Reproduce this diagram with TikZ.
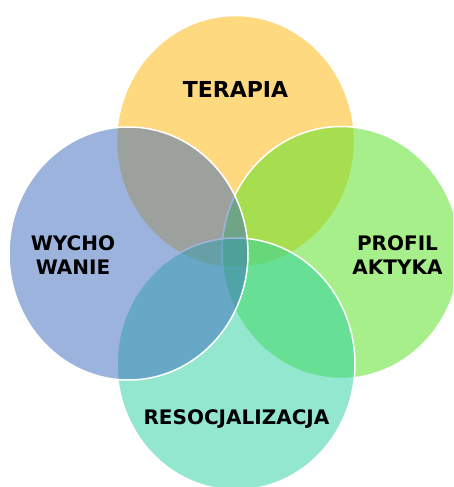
\documentclass[tikz,border=0pt]{standalone}
\usepackage{fontspec}
\setmainfont{DejaVu Sans}
\definecolor{corange}{RGB}{255,180,0}
\definecolor{cblue}{RGB}{59,107,189}
\definecolor{cgreen}{RGB}{96,227,42}
\definecolor{cteal}{RGB}{41,209,159}
\tikzset{
  venn/.style={draw=white, line width=1.5pt, fill opacity=0.5, draw opacity=1},
  lbl/.style={font=\fontsize{20}{24}\selectfont\bfseries, text=black, align=center, inner sep=0pt}
}
\begin{document}
\begin{tikzpicture}[x=1pt,y=-1pt]
\useasboundingbox (0,0) rectangle (453,487);
\fill[white] (0,0) rectangle (453,487);
\begin{scope}
\clip (0,0) rectangle (453,487);
\path[venn, fill=corange] (235.5,141.5) ellipse [x radius=119, y radius=126];
\path[venn, fill=cgreen, fill opacity=0.55] (341,252.5) ellipse [x radius=119, y radius=126];
\path[venn, fill=cteal] (236,364) ellipse [x radius=119, y radius=126];
\path[venn, fill=cblue] (128.5,253.5) ellipse [x radius=119.5, y radius=126.5];
\end{scope}
\node[lbl, font=\fontsize{22}{26}\selectfont\bfseries] (terapia) at (235.5,89) {TERAPIA};
\node[lbl] (wych) at (73,255) {WYCHO\\WANIE};
\node[lbl] (prof) at (397.5,255) {PROFIL\\AKTYKA};
\node[lbl] (reso) at (236.5,419) {RESOCJALIZACJA};
\end{tikzpicture}
\end{document}
